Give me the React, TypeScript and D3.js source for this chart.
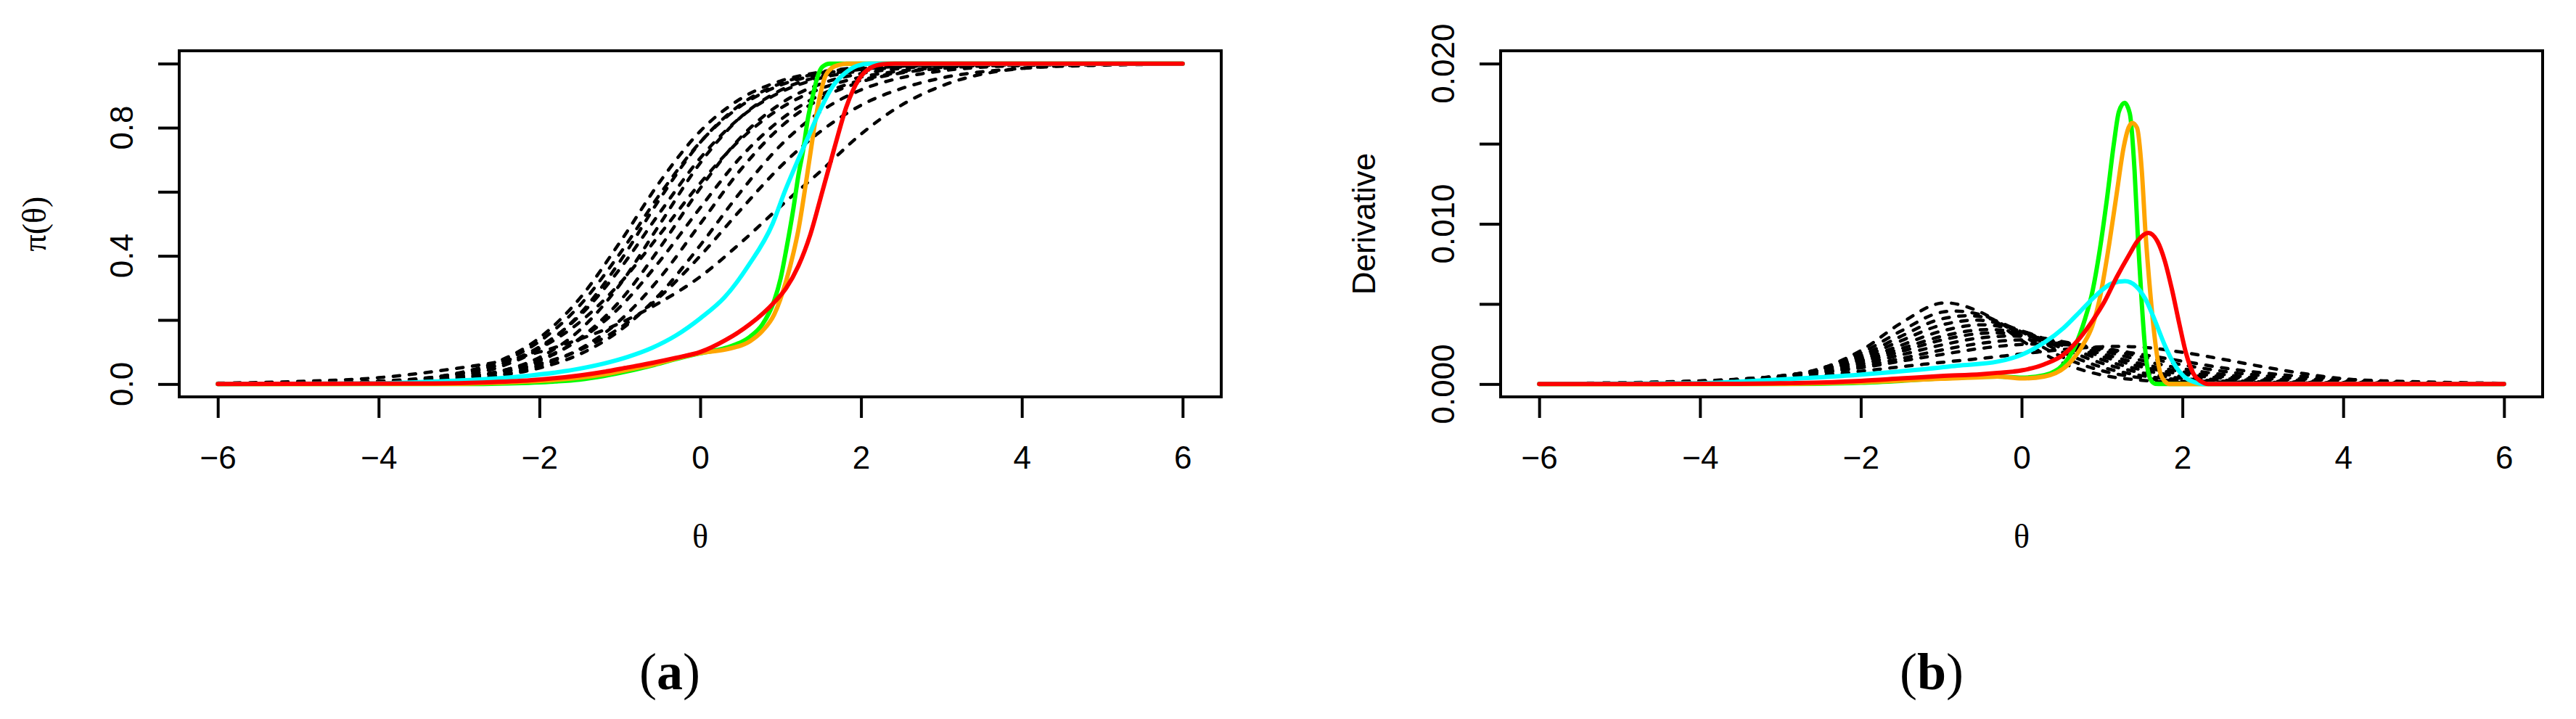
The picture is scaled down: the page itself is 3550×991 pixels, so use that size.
import React, { useRef, useEffect } from "react";
import * as d3 from "d3";

// ---- panel (a): item characteristic curves pi(theta) ----
const thetaPi = [-6, -5, -4, -3, -2.5, -2, -1.5, -1, -0.5, 0, 0.5, 1, 1.5, 2, 2.5, 3, 4, 5, 6];

const piBlack1 = [0.0003, 0.0016, 0.0075, 0.035, 0.072, 0.144, 0.267, 0.442, 0.632, 0.789, 0.89, 0.946, 0.974, 0.988, 0.994, 0.997, 1, 1, 1];
const piBlack2 = [0.0002, 0.001, 0.005, 0.025, 0.053, 0.111, 0.218, 0.382, 0.579, 0.754, 0.872, 0.938, 0.971, 0.987, 0.994, 0.997, 1, 1, 1];
const piBlack3 = [0.0004, 0.0017, 0.007, 0.03, 0.06, 0.116, 0.213, 0.359, 0.536, 0.705, 0.832, 0.911, 0.955, 0.977, 0.989, 0.995, 0.999, 1, 1];
const piBlack4 = [0.0002, 0.0007, 0.0037, 0.018, 0.039, 0.083, 0.168, 0.31, 0.5, 0.69, 0.832, 0.917, 0.961, 0.982, 0.992, 0.996, 0.999, 1, 1];
const piBlack5 = [0.0007, 0.0025, 0.009, 0.033, 0.061, 0.111, 0.193, 0.314, 0.468, 0.627, 0.763, 0.861, 0.922, 0.958, 0.977, 0.988, 0.997, 0.999, 1];
const piBlack6 = [0.0002, 0.0009, 0.004, 0.017, 0.036, 0.072, 0.142, 0.259, 0.426, 0.611, 0.769, 0.875, 0.937, 0.969, 0.985, 0.993, 0.999, 1, 1];
const piBlack7 = [0.0004, 0.0014, 0.0055, 0.021, 0.04, 0.076, 0.139, 0.24, 0.385, 0.55, 0.707, 0.825, 0.903, 0.948, 0.973, 0.986, 0.996, 0.999, 1];
const piBlack8 = [0.0002, 0.0009, 0.0037, 0.015, 0.029, 0.057, 0.109, 0.198, 0.332, 0.5, 0.668, 0.802, 0.891, 0.943, 0.971, 0.985, 0.996, 0.999, 1];
const piBlack9 = [0.0002, 0.0009, 0.0036, 0.014, 0.026, 0.05, 0.093, 0.167, 0.281, 0.433, 0.599, 0.745, 0.851, 0.918, 0.956, 0.977, 0.994, 0.998, 1];
const piBlack10 = [0.0007, 0.002, 0.0067, 0.021, 0.036, 0.063, 0.106, 0.175, 0.273, 0.4, 0.543, 0.679, 0.789, 0.87, 0.922, 0.955, 0.985, 0.995, 0.998];
const piBlack11 = [0.0004, 0.0017, 0.0074, 0.032, 0.067, 0.133, 0.245, 0.407, 0.593, 0.755, 0.867, 0.933, 0.967, 0.984, 0.992, 0.996, 0.999, 1, 1];
const piBlack12 = [0.003, 0.008, 0.02, 0.05, 0.07, 0.1, 0.14, 0.19, 0.255, 0.335, 0.44, 0.555, 0.665, 0.78, 0.87, 0.93, 0.985, 0.997, 1];

const piBlack = [piBlack1, piBlack2, piBlack3, piBlack4, piBlack5, piBlack6, piBlack7, piBlack8, piBlack9, piBlack10, piBlack11, piBlack12];

// [theta, pi]
const piGreen = [[-6, 0], [-3, 0], [-2.4, 0.002], [-1.8, 0.008], [-1.5, 0.014], [-1.2, 0.025], [-0.9, 0.04], [-0.6, 0.058], [-0.3, 0.078], [0, 0.096], [0.32, 0.113], [0.62, 0.148], [0.77, 0.185], [0.92, 0.26], [1.0, 0.33], [1.07, 0.42], [1.16, 0.55], [1.22, 0.65], [1.28, 0.73], [1.34, 0.83], [1.4, 0.9], [1.46, 0.96], [1.52, 0.99], [1.61, 1], [6, 1]];
const piOrange = [[-6, 0], [-3, 0.001], [-2.4, 0.005], [-1.8, 0.013], [-1.5, 0.02], [-1.2, 0.03], [-0.9, 0.045], [-0.6, 0.06], [-0.3, 0.08], [0, 0.097], [0.32, 0.108], [0.62, 0.134], [0.77, 0.165], [0.92, 0.217], [1.07, 0.323], [1.16, 0.41], [1.22, 0.48], [1.31, 0.62], [1.37, 0.72], [1.43, 0.82], [1.49, 0.9], [1.55, 0.957], [1.64, 0.987], [1.73, 0.996], [1.82, 1], [6, 1]];
const piCyan = [[-6, 0], [-4, 0.002], [-3.3, 0.008], [-2.7, 0.015], [-2.1, 0.027], [-1.8, 0.036], [-1.5, 0.048], [-1.2, 0.064], [-0.9, 0.085], [-0.6, 0.113], [-0.3, 0.152], [0, 0.205], [0.3, 0.27], [0.6, 0.37], [0.9, 0.5], [1.05, 0.6], [1.2, 0.69], [1.35, 0.775], [1.5, 0.86], [1.65, 0.93], [1.8, 0.97], [1.95, 0.993], [2.1, 1], [6, 1]];
const piRed = [[-6, 0], [-3.3, 0.002], [-2.7, 0.005], [-2.1, 0.012], [-1.5, 0.027], [-1.2, 0.038], [-0.9, 0.052], [-0.6, 0.066], [-0.3, 0.082], [0, 0.1], [0.32, 0.138], [0.62, 0.187], [0.92, 0.255], [1.07, 0.3], [1.22, 0.368], [1.37, 0.467], [1.52, 0.602], [1.67, 0.738], [1.82, 0.867], [1.97, 0.95], [2.12, 0.987], [2.27, 0.998], [2.42, 1], [6, 1]];

// ---- panel (b): derivatives, in units of 0.001 ----
const thetaD = [-6, -5, -4.5, -4, -3.5, -3, -2.5, -2, -1.5, -1, -0.5, 0, 0.5, 1, 1.5, 2, 2.5, 3, 3.5, 4, 4.5, 5, 6];

const dBlack1 = [0, 0.01, 0.03, 0.07, 0.16, 0.4, 0.95, 2.09, 3.8, 5.05, 4.46, 2.72, 1.33, 0.56, 0.23, 0.1, 0.04, 0.01, 0, 0, 0, 0, 0];
const dBlack2 = [0, 0.02, 0.04, 0.09, 0.2, 0.44, 0.97, 1.93, 3.31, 4.48, 4.32, 3.04, 1.7, 0.83, 0.38, 0.17, 0.07, 0.03, 0.01, 0, 0, 0, 0];
const dBlack3 = [0, 0.02, 0.05, 0.1, 0.22, 0.45, 0.92, 1.76, 2.98, 4.06, 4.2, 3.25, 2.0, 1.05, 0.52, 0.26, 0.12, 0.05, 0.02, 0, 0, 0, 0];
const dBlack4 = [0.01, 0.03, 0.06, 0.12, 0.24, 0.46, 0.9, 1.64, 2.7, 3.68, 3.98, 3.32, 2.24, 1.3, 0.7, 0.35, 0.18, 0.08, 0.04, 0.02, 0, 0, 0];
const dBlack5 = [0.01, 0.03, 0.07, 0.13, 0.25, 0.46, 0.88, 1.52, 2.42, 3.3, 3.7, 3.3, 2.42, 1.52, 0.88, 0.46, 0.25, 0.13, 0.07, 0.03, 0.01, 0, 0];
const dBlack6 = [0.01, 0.04, 0.08, 0.16, 0.29, 0.5, 0.88, 1.45, 2.21, 2.97, 3.39, 3.2, 2.52, 1.72, 1.07, 0.62, 0.36, 0.2, 0.11, 0.06, 0.03, 0.01, 0];
const dBlack7 = [0.02, 0.05, 0.1, 0.17, 0.3, 0.51, 0.86, 1.38, 2.03, 2.74, 3.16, 3.1, 2.59, 1.89, 1.25, 0.77, 0.46, 0.27, 0.15, 0.09, 0.05, 0.03, 0.01];
const dBlack8 = [0.02, 0.06, 0.1, 0.18, 0.3, 0.5, 0.8, 1.25, 1.82, 2.43, 2.89, 2.98, 2.66, 2.08, 1.47, 0.96, 0.6, 0.36, 0.22, 0.13, 0.08, 0.04, 0.01];
const dBlack9 = [0.03, 0.07, 0.12, 0.19, 0.3, 0.48, 0.74, 1.11, 1.59, 2.12, 2.55, 2.75, 2.61, 2.2, 1.69, 1.2, 0.8, 0.52, 0.32, 0.21, 0.13, 0.08, 0.03];
const dBlack10 = [0.03, 0.08, 0.13, 0.2, 0.31, 0.47, 0.7, 1.01, 1.43, 1.84, 2.23, 2.47, 2.47, 2.23, 1.84, 1.43, 1.01, 0.7, 0.47, 0.31, 0.2, 0.13, 0.05];
const dBlack11 = [0, 0.02, 0.05, 0.1, 0.2, 0.35, 0.55, 0.8, 1.08, 1.35, 1.6, 1.88, 2.15, 2.33, 2.3, 1.98, 1.55, 1.08, 0.66, 0.33, 0.15, 0.06, 0];

const dBlack = [dBlack1, dBlack2, dBlack3, dBlack4, dBlack5, dBlack6, dBlack7, dBlack8, dBlack9, dBlack10, dBlack11];

const dGreen = [[-6, 0], [-3, 0], [-2.5, 0.02], [-2, 0.08], [-1.5, 0.2], [-1, 0.35], [-0.5, 0.45], [-0.3, 0.47], [0, 0.4], [0.28, 0.55], [0.52, 1.23], [0.67, 2.43], [0.79, 4.09], [0.88, 5.75], [0.97, 8.3], [1.06, 11.5], [1.15, 15.1], [1.21, 17.0], [1.28, 17.55], [1.345, 16.9], [1.405, 13.3], [1.45, 8.76], [1.495, 5.0], [1.54, 2.0], [1.6, 0.32], [1.66, 0.02], [1.75, 0], [6, 0]];
const dOrange = [[-6, 0], [-3, 0.01], [-2.5, 0.05], [-2, 0.12], [-1.5, 0.22], [-1, 0.33], [-0.5, 0.42], [-0.3, 0.47], [0, 0.35], [0.28, 0.47], [0.58, 1.23], [0.76, 2.43], [0.88, 3.64], [0.97, 5.3], [1.09, 8.76], [1.18, 11.8], [1.27, 14.8], [1.33, 16.0], [1.375, 16.3], [1.435, 16.0], [1.495, 13.3], [1.54, 9.5], [1.6, 5.7], [1.66, 2.7], [1.72, 0.78], [1.78, 0.17], [1.84, 0], [6, 0]];
const dCyan = [[-6, 0], [-4, 0.05], [-3.5, 0.15], [-3, 0.29], [-2.5, 0.42], [-2.1, 0.55], [-1.6, 0.75], [-1.2, 0.93], [-0.8, 1.15], [-0.3, 1.4], [0, 1.83], [0.28, 2.58], [0.52, 3.49], [0.73, 4.54], [0.94, 5.6], [1.12, 6.27], [1.285, 6.42], [1.42, 6.12], [1.54, 5.3], [1.66, 3.94], [1.78, 2.43], [1.9, 1.23], [2.02, 0.47], [2.14, 0.14], [2.26, 0], [6, 0]];
const dRed = [[-6, 0], [-3.5, 0.02], [-3, 0.05], [-2.5, 0.1], [-2, 0.2], [-1.5, 0.35], [-1, 0.5], [-0.5, 0.62], [-0.3, 0.7], [0, 0.85], [0.28, 1.23], [0.52, 1.83], [0.7, 2.73], [0.88, 3.94], [1.03, 5.14], [1.18, 6.65], [1.33, 8.0], [1.45, 8.98], [1.576, 9.43], [1.69, 8.9], [1.78, 7.7], [1.87, 5.9], [1.96, 3.79], [2.05, 1.83], [2.14, 0.62], [2.23, 0.17], [2.32, 0], [6, 0]];

// ---- axes ----
const xTicks = [-6, -4, -2, 0, 2, 4, 6];
const piTicks = [0, 0.2, 0.4, 0.6, 0.8, 1.0];
const piLabelTicks = [0, 0.4, 0.8];
const piLabels = ["0.0", "0.4", "0.8"];
const dTicks = [0, 5, 10, 15, 20];
const dLabelTicks = [0, 10, 20];
const dLabels = ["0.000", "0.010", "0.020"];

const BOX_TOP = 70;
const BOX_BOTTOM = 547;
const BOX_W = 1436;
const SANS = "'Liberation Sans', Arial, sans-serif";
const SERIF = "'Liberation Serif', 'Times New Roman', serif";

const drawPanel = (svg: any, p: any) => {
  const x = d3.scaleLinear().domain([-6.48, 6.48]).range([p.left, p.left + BOX_W]);
  const y = d3.scaleLinear().domain(p.yDomain).range([BOX_BOTTOM, BOX_TOP]);
  const g = svg.append("g");

  // Black dashed curves
  const blackLine = d3
    .line()
    .x((d: any) => x(d[0]))
    .y((d: any) => y(d[1]))
    .curve(p.blackCurve);
  p.black.forEach((vals: number[]) => {
    g.append("path")
      .attr("d", blackLine(p.grid.map((t: number, i: number) => [t, vals[i]])))
      .attr("fill", "none")
      .attr("stroke", "#000")
      .attr("stroke-width", 4.5)
      .attr("stroke-linecap", "round")
      .attr("stroke-dasharray", "9 13");
  });

  // Coloured curves
  const colLine = d3
    .line()
    .x((d: any) => x(d[0]))
    .y((d: any) => y(d[1]))
    .curve(d3.curveMonotoneX);
  p.colored.forEach((c: any) => {
    g.append("path")
      .attr("d", colLine(c.data))
      .attr("fill", "none")
      .attr("stroke", c.color)
      .attr("stroke-width", 6)
      .attr("stroke-linecap", "round")
      .attr("stroke-linejoin", "round");
  });

  // Box
  g.append("rect")
    .attr("x", p.left)
    .attr("y", BOX_TOP)
    .attr("width", BOX_W)
    .attr("height", BOX_BOTTOM - BOX_TOP)
    .attr("fill", "none")
    .attr("stroke", "#000")
    .attr("stroke-width", 4);

  // X axis
  const xa = g
    .append("g")
    .attr("transform", `translate(0,${BOX_BOTTOM})`)
    .call(
      d3
        .axisBottom(x)
        .tickValues(xTicks)
        .tickSize(29)
        .tickSizeOuter(0)
        .tickPadding(39)
        .tickFormat((d: any) => (d < 0 ? "\u2212" + Math.abs(d) : String(d)))
    );
  xa.select(".domain").remove();
  xa.selectAll("line").attr("stroke", "#000").attr("stroke-width", 4);
  xa.selectAll("text").attr("fill", "#000").style("font-family", SANS).style("font-size", "44px");

  // Y axis ticks
  const ya = g
    .append("g")
    .attr("transform", `translate(${p.left},0)`)
    .call(d3.axisLeft(y).tickValues(p.yTicks).tickSize(29).tickSizeOuter(0).tickFormat(() => ""));
  ya.select(".domain").remove();
  ya.selectAll("line").attr("stroke", "#000").attr("stroke-width", 4);

  // Y labels (parallel to axis)
  p.yLabelTicks.forEach((t: number, i: number) => {
    g.append("text")
      .attr("transform", `translate(${p.left - 64},${y(t)}) rotate(-90)`)
      .attr("text-anchor", "middle")
      .style("font-family", SANS)
      .style("font-size", "44px")
      .attr("fill", "#000")
      .text(p.yLabels[i]);
  });

  // Axis titles
  const cx = p.left + BOX_W / 2;
  g.append("text")
    .attr("x", cx)
    .attr("y", 755)
    .attr("text-anchor", "middle")
    .style("font-family", SERIF)
    .style("font-size", "46px")
    .text("\u03b8");

  g.append("text")
    .attr("transform", `translate(${p.left - p.titleOffset},${(BOX_TOP + BOX_BOTTOM) / 2}) rotate(-90)`)
    .attr("text-anchor", "middle")
    .style("font-family", p.titleFont)
    .style("font-size", p.titleSize)
    .text(p.yTitle);

  // Sub-figure caption
  const cap = g
    .append("text")
    .attr("x", p.captionX)
    .attr("y", 950)
    .attr("text-anchor", "middle")
    .style("font-family", SERIF)
    .style("font-size", "72px");
  cap.append("tspan").text("(");
  cap.append("tspan").attr("font-weight", "bold").text(p.caption);
  cap.append("tspan").text(")");
};

const App = () => {
  const ref = useRef<SVGSVGElement | null>(null);

  useEffect(() => {
    if (!ref.current) return;
    const svg = d3.select(ref.current);
    svg.selectAll("*").remove();

    drawPanel(svg, {
      left: 247,
      yDomain: [-0.04, 1.04],
      grid: thetaPi,
      black: piBlack,
      blackCurve: d3.curveMonotoneX,
      colored: [
        { data: piGreen, color: "#00ff00" },
        { data: piOrange, color: "#ffa500" },
        { data: piCyan, color: "#00ffff" },
        { data: piRed, color: "#ff0000" },
      ],
      yTicks: piTicks,
      yLabelTicks: piLabelTicks,
      yLabels: piLabels,
      yTitle: "\u03c0(\u03b8)",
      titleFont: SERIF,
      titleSize: "46px",
      titleOffset: 184,
      caption: "a",
      captionX: 923,
    });

    drawPanel(svg, {
      left: 2068,
      yDomain: [-0.8, 20.8],
      grid: thetaD,
      black: dBlack,
      blackCurve: d3.curveCatmullRom.alpha(0.5),
      colored: [
        { data: dGreen, color: "#00ff00" },
        { data: dOrange, color: "#ffa500" },
        { data: dCyan, color: "#00ffff" },
        { data: dRed, color: "#ff0000" },
      ],
      yTicks: dTicks,
      yLabelTicks: dLabelTicks,
      yLabels: dLabels,
      yTitle: "Derivative",
      titleFont: SANS,
      titleSize: "44px",
      titleOffset: 173,
      caption: "b",
      captionX: 2662,
    });
  }, []);

  return (
    <svg
      ref={ref}
      width={3550}
      height={991}
      style={{ position: "absolute", left: 0, top: 0, background: "#fff" }}
    />
  );
};

export default App;
